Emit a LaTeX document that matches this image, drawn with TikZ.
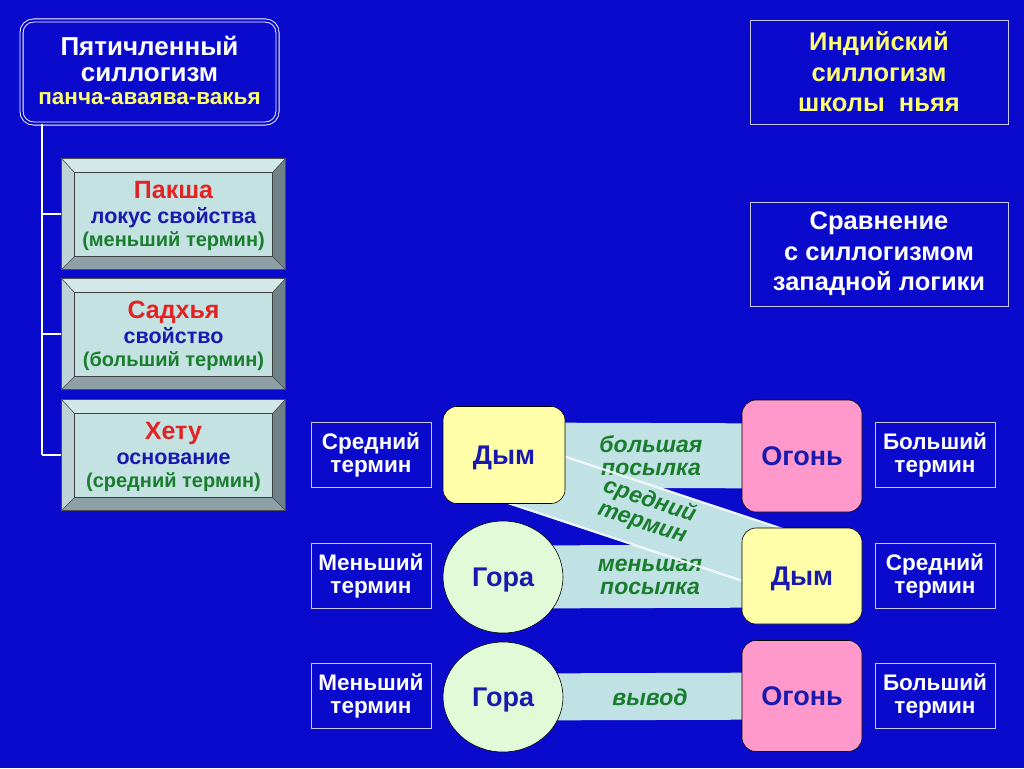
\documentclass[tikz,border=0pt]{standalone}
\usepackage{fontspec}
\setmainfont{Liberation Sans}
\usetikzlibrary{calc,shapes.geometric}
\definecolor{bg}{RGB}{10,10,204}
\definecolor{bandc}{RGB}{192,226,228}
\definecolor{ftop}{RGB}{210,232,232}
\definecolor{fleft}{RGB}{188,212,214}
\definecolor{fright}{RGB}{110,130,135}
\definecolor{fbot}{RGB}{140,160,165}
\definecolor{finner}{RGB}{196,226,226}
\definecolor{tred}{RGB}{225,35,35}
\definecolor{tblue}{RGB}{25,25,175}
\definecolor{tgreen}{RGB}{25,125,45}
\definecolor{tyel}{RGB}{255,255,110}
\definecolor{shyel}{RGB}{255,255,170}
\definecolor{shpink}{RGB}{255,153,204}
\definecolor{shgreen}{RGB}{225,250,215}
\definecolor{lbord}{RGB}{200,200,235}
\tikzset{
  conn/.style={white,line width=2pt},
  bevout/.style={rectangle,minimum width=224pt,minimum height=111pt,inner sep=0pt},
  bevin/.style={rectangle,minimum width=198pt,minimum height=84pt,inner sep=0pt,fill=finner,draw=black!75,line width=0.8pt,align=center,font=\fontsize{20}{23}\selectfont\bfseries},
  bevline/.style={draw=black!70,line width=0.6pt},
  infobox/.style={rectangle,draw=lbord,line width=0.8pt,minimum width=258pt,minimum height=104pt,align=center,font=\fontsize{25.5}{30.5}\selectfont\bfseries},
  lbl/.style={rectangle,draw=lbord,line width=0.8pt,fill=bg,minimum width=120pt,minimum height=65pt,inner sep=1pt,align=center,text=white,font=\fontsize{22.5}{23}\selectfont\bfseries},
  shp/.style={draw=black,line width=0.6pt,inner sep=0pt,text depth=0pt,text=tblue,font=\fontsize{27}{28}\selectfont\bfseries},
  rbox/.style={shp,rectangle,rounded corners=14pt},
  ebox/.style={shp,ellipse},
  band/.style={bandc,line width=#1},
  bandtxt/.style={text=tgreen,align=center,inner sep=1pt,font=\fontsize{23}{23}\selectfont\bfseries\itshape},
  edge/.style={draw=white,line width=0.6pt,double=white!55!bandc,double distance=0.9pt}
}
\newcommand\bevelbox[3]{%
  \node[bevout] (#1) at (173.5,#2) {};
  \fill[ftop] (#1.north west) -- (#1.north east) -- ($(#1.north east)+(-13,14)$) -- ($(#1.north west)+(13,14)$) -- cycle;
  \fill[fleft] (#1.north west) -- ($(#1.north west)+(13,14)$) -- ($(#1.south west)+(13,-13)$) -- (#1.south west) -- cycle;
  \fill[fright] (#1.north east) -- ($(#1.north east)+(-13,14)$) -- ($(#1.south east)+(-13,-13)$) -- (#1.south east) -- cycle;
  \fill[fbot] (#1.south west) -- ($(#1.south west)+(13,-13)$) -- ($(#1.south east)+(-13,-13)$) -- (#1.south east) -- cycle;
  \draw[bevline] (#1.north west) rectangle (#1.south east);
  \draw[bevline] (#1.north west) -- ($(#1.north west)+(13,14)$);
  \draw[bevline] (#1.north east) -- ($(#1.north east)+(-13,14)$);
  \draw[bevline] (#1.south west) -- ($(#1.south west)+(13,-13)$);
  \draw[bevline] (#1.south east) -- ($(#1.south east)+(-13,-13)$);
  \node[bevin] (#1in) at (#1.center) {};
  \node[align=center,inner sep=0pt,font=\fontsize{20}{23}\selectfont\bfseries] (#1txt) at ($(#1.center)+(0,2)$) {#3};
}
\begin{document}
\begin{tikzpicture}[x=1pt,y=-1pt]
\fill[bg] (0,0) rectangle (1024,768);
\useasboundingbox (0,0) rectangle (1024,768);

% title box
\node[rectangle,rounded corners=12pt,draw=white,line width=0.9pt,double=bg,double distance=2.2pt,fill=bg,minimum width=256pt,minimum height=103pt] (title) at (149.5,72) {};
\node[text=white,align=center,font=\fontsize{26}{26}\selectfont\bfseries] (t1) at (149.5,59) {Пятичленный\\силлогизм};
\node[text=tyel,font=\fontsize{22.5}{23}\selectfont\bfseries] (t2) at (149.5,99) {панча-аваява-вакья};

% bevel boxes
\bevelbox{b1}{214}{{\color{tred}\fontsize{25}{25}\selectfont Пакша}\\[2pt]{\color{tblue}\fontsize{21.5}{23}\selectfont локус свойства}\\{\color{tgreen}(меньший термин)}}
\bevelbox{b2}{334}{{\color{tred}\fontsize{25}{25}\selectfont Садхья}\\[2pt]{\color{tblue}\fontsize{21.5}{23}\selectfont свойство}\\{\color{tgreen}(больший термин)}}
\bevelbox{b3}{455}{{\color{tred}\fontsize{25}{25}\selectfont Хету}\\[2pt]{\color{tblue}\fontsize{21.5}{23}\selectfont основание}\\{\color{tgreen}(средний термин)}}

% tree connectors
\coordinate (j1) at (42,214);
\coordinate (j2) at (42,334);
\coordinate (j3) at (42,455);
\draw[conn] (title.south -| j3) -- (j3);
\draw[conn] (j1) -- (b1.west);
\draw[conn] (j2) -- (b2.west);
\draw[conn] (j3) -- (b3.west);

% right info boxes
\node[infobox,text=tyel] (ind) at (879,72) {Индийский\\силлогизм\\школы\ \ ньяя};
\node[infobox,text=white] (cmp) at (879,254) {Сравнение\\с силлогизмом\\западной логики};

% shapes (positions)
\coordinate (pd1) at (504,455);
\coordinate (po1) at (802,456);
\coordinate (pg1) at (503,577);
\coordinate (pd2) at (802,576);
\coordinate (pg2) at (503,697);
\coordinate (po2) at (802,696);

% bands
\draw[band=65pt] (pd1) -- (po1);
\draw[band=63pt] (pg1) -- (pd2);
\draw[band=47pt] (pg2) -- (po2);
\coordinate (da) at ($(pd1)+(0,14)$);
\coordinate (db) at ($(pd2)+(0,-8)$);
\draw[band=62pt] (da) -- (db);

\node[bandtxt] (bt1) at (651,456) {большая\\посылка};
\node[bandtxt] (bt2) at (650,577) {меньшая\\посылка};
\node[bandtxt] (bt3) at (650,697) {вывод};
\node[bandtxt,inner sep=0pt,rotate=-18.3] (bt4) at (646,512) {средний\\термин};

\draw[edge] ($(da)!31pt!90:(db)$) -- ($(db)!31pt!-90:(da)$);
\draw[edge] ($(da)!31pt!-90:(db)$) -- ($(db)!31pt!90:(da)$);

% shapes
\node[rbox,fill=shyel,minimum width=122pt,minimum height=97pt] (dym1) at (pd1) {Дым};
\node[rbox,fill=shpink,minimum width=120pt,minimum height=112pt] (ogon1) at (po1) {Огонь};
\node[ebox,fill=shgreen,minimum width=120pt,minimum height=112pt] (gora1) at (pg1) {Гора};
\node[rbox,fill=shyel,minimum width=120pt,minimum height=96pt] (dym2) at (pd2) {Дым};
\node[ebox,fill=shgreen,minimum width=120pt,minimum height=110pt] (gora2) at (pg2) {Гора};
\node[rbox,fill=shpink,minimum width=120pt,minimum height=111pt] (ogon2) at (po2) {Огонь};

% label boxes
\node[lbl] (l1) at (371,455) {Средний\\термин};
\node[lbl] (l2) at (371,576) {Меньший\\термин};
\node[lbl] (l3) at (371,696) {Меньший\\термин};
\node[lbl] (r1) at (935,455) {Больший\\термин};
\node[lbl] (r2) at (935,576) {Средний\\термин};
\node[lbl] (r3) at (935,696) {Больший\\термин};
\end{tikzpicture}
\end{document}
